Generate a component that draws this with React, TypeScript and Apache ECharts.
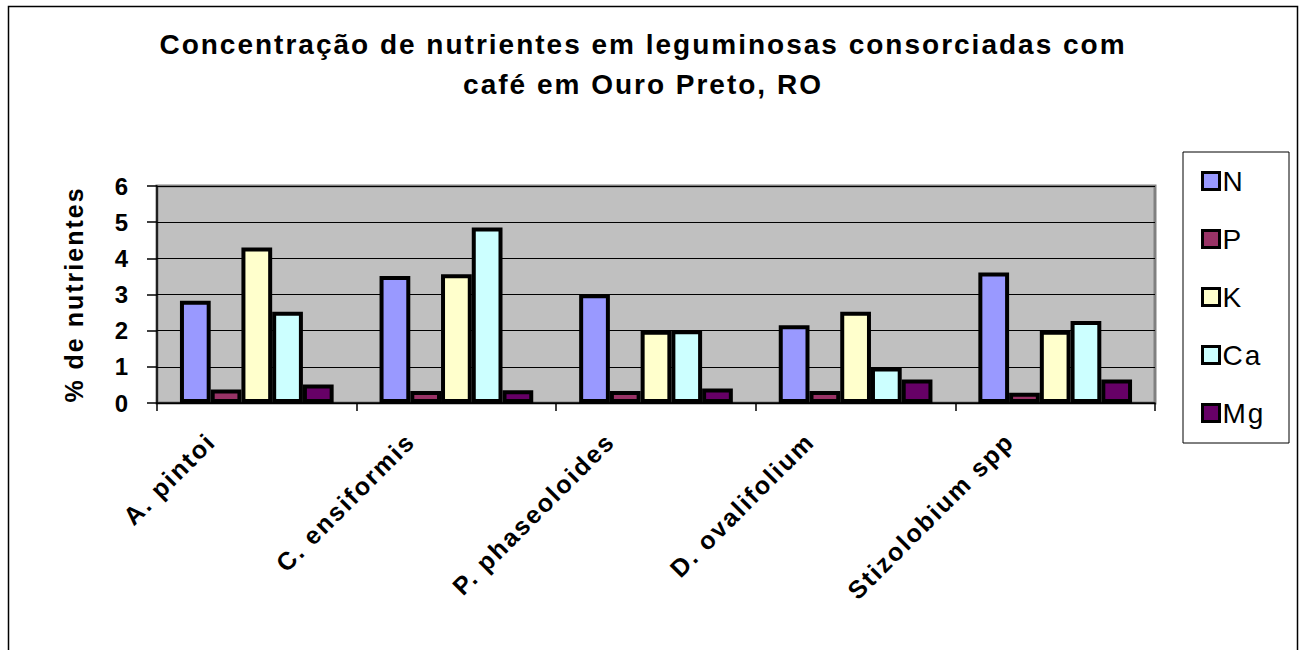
import React, { useEffect, useRef } from "react";
import * as echarts from "echarts";

const categories = ["A. pintoi", "C. ensiformis", "P. phaseoloides", "D. ovalifolium", "Stizolobium spp"];
const seriesNames = ["N", "P", "K", "Ca", "Mg"];
const valuesN = [2.83, 3.51, 3.01, 2.15, 3.61];
const valuesP = [0.37, 0.33, 0.33, 0.33, 0.28];
const valuesK = [4.3, 3.56, 2.0, 2.52, 2.0];
const valuesCa = [2.52, 4.85, 2.01, 0.98, 2.27];
const valuesMg = [0.51, 0.35, 0.4, 0.65, 0.65];
const seriesValues = [valuesN, valuesP, valuesK, valuesCa, valuesMg];
const colors = ["#9999FF", "#993366", "#FFFFCC", "#CCFFFF", "#660066"];
const titleText = "Concentração de nutrientes em leguminosas consorciadas com\ncafé em Ouro Preto, RO";
const yAxisName = "% de nutrientes";

const FONT = "'Liberation Sans', Arial, sans-serif";

export default function App() {
  const ref = useRef<HTMLDivElement>(null);
  useEffect(() => {
    if (!ref.current) return;
    const chart = echarts.init(ref.current, null, { renderer: "svg" });
    chart.setOption({
      animation: false,
      backgroundColor: "#ffffff",
      textStyle: { fontFamily: FONT },
      title: {
        text: titleText,
        left: 638,
        top: 19,
        textAlign: "center",
        textStyle: { fontFamily: FONT, fontSize: 28, fontWeight: "bold", color: "#000", lineHeight: 40 },
      },
      graphic: [
        {
          type: "rect",
          z: -10,
          shape: { x: 8.5, y: 6.5, width: 1289, height: 700 },
          style: { fill: "none", stroke: "#000", lineWidth: 1.5 },
        },
        {
          type: "rect",
          z: 0,
          shape: { x: 1183, y: 152, width: 106, height: 291 },
          style: { fill: "#fff", stroke: "#000", lineWidth: 1 },
        },
      ],
      legend: {
        orient: "vertical",
        left: 1201,
        top: 167,
        z: 5,
        icon: "rect",
        itemWidth: 17,
        itemHeight: 17,
        itemGap: 30,
        padding: 0,
        itemStyle: { borderColor: "#000", borderWidth: 3 },
        textStyle: { fontFamily: FONT, fontSize: 28, color: "#000", padding: [0, 0, 0, -2] },
        data: seriesNames,
      },
      grid: {
        left: 157,
        right: 146,
        top: 186,
        bottom: 247,
        show: true,
        backgroundColor: "#C0C0C0",
        borderColor: "#808080",
        borderWidth: 3,
      },
      xAxis: {
        type: "category",
        data: categories,
        axisLine: { lineStyle: { color: "#000", width: 1.5 } },
        axisTick: { show: true, alignWithLabel: false, length: 8, lineStyle: { color: "#000", width: 1.5 } },
        axisLabel: {
          rotate: 45,
          interval: 0,
          margin: -12,
          padding: [0, 65, 0, 0],
          fontFamily: FONT,
          fontSize: 25,
          fontWeight: "bold",
          color: "#000",
        },
      },
      yAxis: {
        type: "value",
        min: 0,
        max: 6,
        interval: 1,
        name: yAxisName,
        nameLocation: "middle",
        nameRotate: 90,
        nameGap: 71,
        nameTextStyle: { fontFamily: FONT, fontSize: 25, fontWeight: "bold", color: "#000" },
        axisLine: { show: true, lineStyle: { color: "#000", width: 1.5 } },
        axisTick: { show: true, length: 10, lineStyle: { color: "#000", width: 1.5 } },
        axisLabel: { margin: 27, fontFamily: FONT, fontSize: 24, fontWeight: "bold", color: "#000" },
        splitLine: { show: true, lineStyle: { color: "#000", width: 1 } },
      },
      series: seriesNames.map((name, i) => ({
        name,
        type: "bar",
        data: seriesValues[i],
        barGap: "0%",
        barCategoryGap: "23%",
        itemStyle: { color: colors[i], borderColor: "#000", borderWidth: 4 },
      })),
    });
    return () => chart.dispose();
  }, []);
  return (
    <>
      <style>{".chart-root text{letter-spacing:2px}"}</style>
      <div
        ref={ref}
        className="chart-root"
        style={{ position: "absolute", left: 0, top: 0, width: 1301, height: 650 }}
      />
    </>
  );
}
